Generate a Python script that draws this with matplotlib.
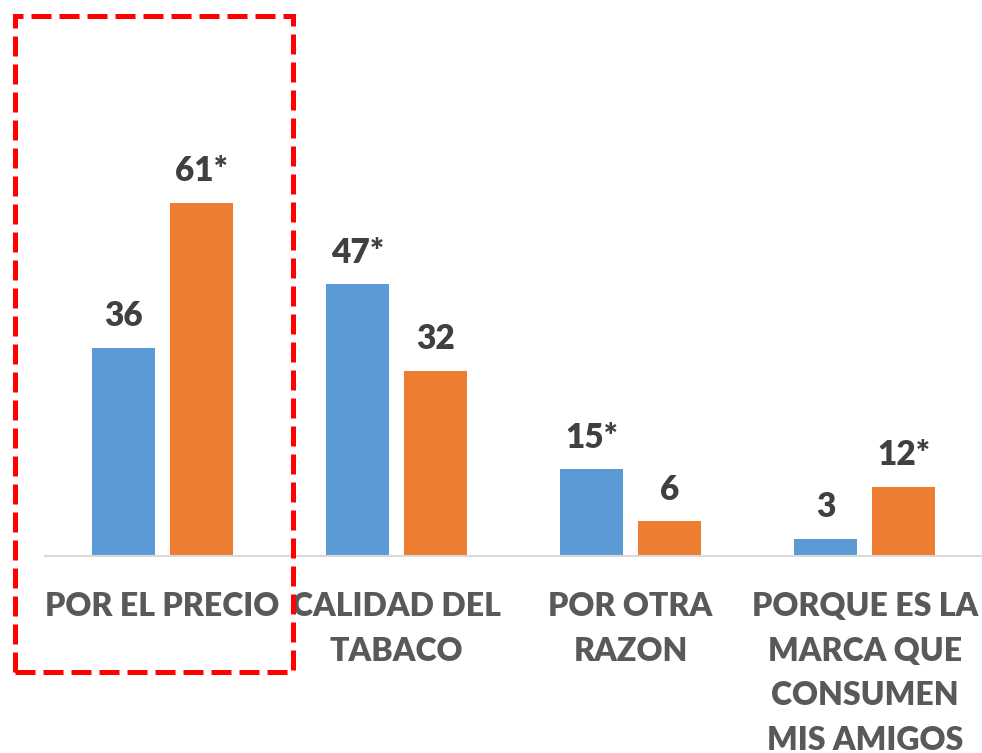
import numpy as np
import matplotlib
matplotlib.use("Agg")
import matplotlib.pyplot as plt
from matplotlib.patches import Rectangle

# data
categorias = ["POR EL PRECIO", "CALIDAD DEL\nTABACO", "POR OTRA\nRAZON",
              "PORQUE ES LA\nMARCA QUE\nCONSUMEN\nMIS AMIGOS"]
serie_azul = [36, 47, 15, 3]
serie_naranja = [61, 32, 6, 12]
sig_azul = [False, True, True, False]
sig_naranja = [True, False, False, True]

plt.rcParams['font.family'] = ['Lato', 'DejaVu Sans']

fig = plt.figure(figsize=(9.82, 7.53), dpi=100)
ax = fig.add_axes([45/982, 197/753, 937/982, 556/753])

x = np.arange(len(categorias))
w = 0.269
off = 0.1665
b1 = ax.bar(x - off, serie_azul, w, color='#5B9BD5')
b2 = ax.bar(x + off, serie_naranja, w, color='#ED7D31')

for bars, vals, sig in [(b1, serie_azul, sig_azul), (b2, serie_naranja, sig_naranja)]:
    for r, v, s in zip(bars, vals, sig):
        txt = str(v) + ('*' if s else '')
        ax.annotate(txt, (r.get_x() + r.get_width()/2, v), xytext=(0, 11),
                    textcoords='offset points', ha='center', va='bottom',
                    fontsize=24, fontweight='heavy', color='#404040')

ax.set_xlim(-0.5, 3.5)
ax.set_ylim(0, 96)
ax.set_xticks(x)
ax.set_xticklabels(categorias, fontsize=23, fontweight='heavy', color='#595959',
                   linespacing=1.65)
ax.tick_params(axis='x', length=0, pad=26)
ax.set_yticks([])
for s in ['top', 'left', 'right']:
    ax.spines[s].set_visible(False)
ax.spines['bottom'].set_color('#D9D9D9')
ax.spines['bottom'].set_linewidth(1.5)

# red dashed box around the first group
rect = Rectangle((15/982, (753-672)/753), (293-15)/982, (672-16)/753,
                 transform=fig.transFigure, fill=False, edgecolor='#FF0000',
                 linewidth=3.6, linestyle=(0, (4, 1.6)), clip_on=False)
fig.patches.append(rect)

fig.savefig('out.png', dpi=100)
